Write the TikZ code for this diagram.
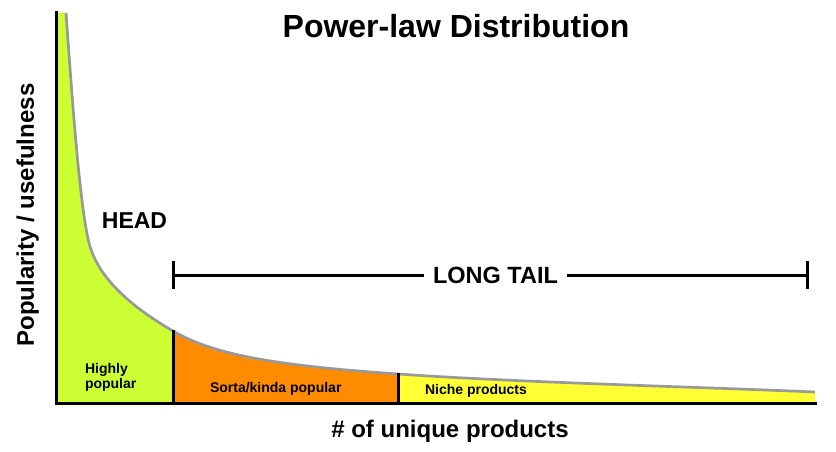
\documentclass[tikz,border=0pt]{standalone}
\usepackage{fontspec}
\setmainfont{Liberation Sans}
\definecolor{headgreen}{RGB}{204,255,51}
\definecolor{midorange}{RGB}{255,140,0}
\definecolor{nicheyellow}{RGB}{255,255,51}
\definecolor{curvegray}{RGB}{153,153,153}
\tikzset{
  curvepath/.style={insert path={
    .. controls (73,110) and (79.5,200) .. (88.3,240)
    .. controls (95.6,273.1) and (123.6,302.3) .. (173,331)
    .. controls (212.9,354.1) and (269.2,365) .. (398,374)
    .. controls (520,382.5) and (700,387) .. (815,392)}},
  axisline/.style={line width=3pt, black},
  divider/.style={line width=3pt, black},
  bigtext/.style={font=\bfseries\fontsize{24}{27}\selectfont, inner sep=0pt, outer sep=0pt},
  smalltext/.style={font=\bfseries\fontsize{14}{15}\selectfont, inner sep=0pt, outer sep=0pt},
}
\begin{document}
\begin{tikzpicture}[x=1pt,y=-1pt]
\useasboundingbox (0,0) rectangle (836,452);
% fills
\begin{scope}
  \clip (398,0) rectangle (836,452);
  \fill[nicheyellow] (56,403) -- (56,13) -- (66,13) [curvepath] -- (815,403) -- cycle;
\end{scope}
\begin{scope}
  \clip (173,0) rectangle (398,452);
  \fill[midorange] (56,403) -- (56,13) -- (66,13) [curvepath] -- (815,403) -- cycle;
\end{scope}
\begin{scope}
  \clip (0,0) rectangle (173,452);
  \fill[headgreen] (56,403) -- (56,13) -- (66,13) [curvepath] -- (815,403) -- cycle;
\end{scope}
% curve
\draw[curvegray, line width=2.7pt] (66,13) [curvepath];
% dividers
\coordinate (d1top) at (173,330);
\coordinate (d1bot) at (173,403);
\coordinate (d2top) at (398,373);
\coordinate (d2bot) at (398,403);
\draw[divider] (d1top) -- (d1bot);
\draw[divider] (d2top) -- (d2bot);
% axes
\coordinate (ytop) at (56,13);
\coordinate (origin) at (56,403);
\coordinate (xend) at (815,403);
\draw[axisline, line cap=rect] (ytop) -- (origin) -- (xend);
% title
\node[font=\bfseries\fontsize{32}{36}\selectfont, anchor=base, inner sep=0pt] (title) at (456,38) {Power-law Distribution};
% axis labels
\node[bigtext, anchor=base, rotate=90] (ylab) at (34,215) {Popularity / usefulness};
\node[bigtext, anchor=base] (xlab) at (450,437) {\# of unique products};
% head
\node[bigtext, font=\bfseries\fontsize{23}{26}\selectfont, anchor=base] (head) at (134.5,228) {HEAD};
% long tail bracket
\node[bigtext, font=\bfseries\fontsize{23.5}{26}\selectfont, anchor=base, inner xsep=9.5pt] (lt) at (495.5,283) {LONG TAIL};
\coordinate (ltl) at (173,275);
\coordinate (ltr) at (807,275);
\coordinate (ltlt) at (173,261);
\coordinate (ltlb) at (173,289);
\coordinate (ltrt) at (807,261);
\coordinate (ltrb) at (807,289);
\draw[line width=3pt] (ltl) -- (ltl -| lt.west);
\draw[line width=3pt] (ltr -| lt.east) -- (ltr);
\draw[line width=3pt] (ltlt) -- (ltlb);
\draw[line width=3pt] (ltrt) -- (ltrb);
% region labels
\node[smalltext, anchor=north west, align=left] (hp) at (85,363) {Highly\\popular};
\node[smalltext, anchor=base west] (sk) at (210,392) {Sorta/kinda popular};
\node[smalltext, anchor=base west] (np) at (425,394) {Niche products};
\end{tikzpicture}
\end{document}
